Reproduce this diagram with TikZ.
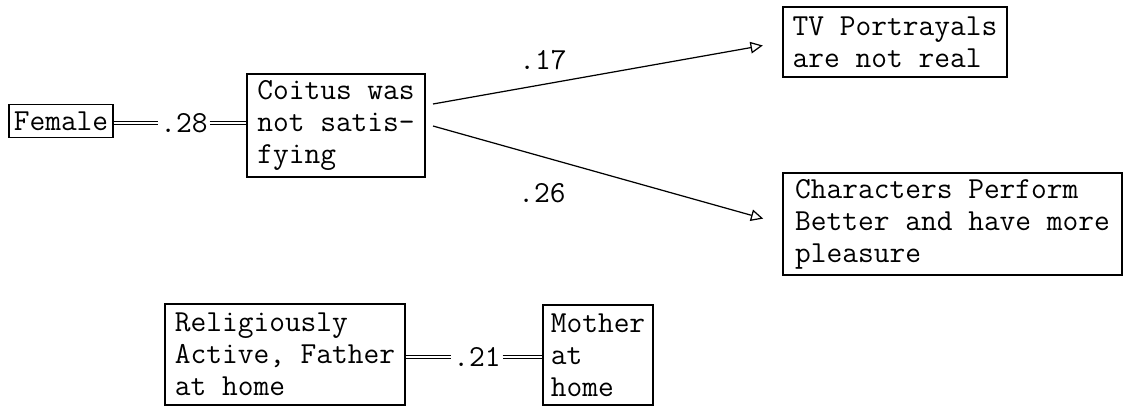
\documentclass[tikz,border=0pt]{standalone}
\usepackage{fontspec}
\usepackage{tikz}
\usetikzlibrary{arrows.meta, positioning}

\begin{document}
\begin{tikzpicture}[
    x=0.02cm, y=-0.02cm,
    every node/.style={font=\ttfamily\fontsize{17.4}{18.2}\selectfont},
    var/.style={
        rectangle, draw=black, line width=0.6pt,
        align=left, inner sep=0pt
    },
    coef/.style={inner sep=1pt},
    corr/.style={double, double distance=1.6pt, line width=0.45pt},
    arrow/.style={-{Triangle[open, length=7pt, width=6.6pt]}, line width=0.7pt},
]
\useasboundingbox (0,0) rectangle (1125,406);

% Variablen
\node[var, minimum width=104*0.02cm, minimum height=33*0.02cm] (female) at (61,121) {Female};
\node[var, minimum width=178*0.02cm, minimum height=103*0.02cm] (coitus) at (336,125.5)
    {Coitus was\\not satis-\\fying};
\node[var, minimum width=224*0.02cm, minimum height=70*0.02cm] (tv) at (895,42)
    {TV Portrayals\\are not real};
\node[var, minimum width=339*0.02cm, minimum height=102*0.02cm] (chars) at (952.5,224)
    {Characters Perform\\Better and have more\\pleasure};
\node[var, minimum width=240*0.02cm, minimum height=101*0.02cm] (relig) at (285,354.5)
    {Religiously\\Active, Father\\at home};
\node[var, minimum width=110*0.02cm, minimum height=100*0.02cm] (mother) at (598,355)
    {Mother\\at\\home};

% Koeffizienten
\node[coef] (r28) at (184,123) {.28};
\node[coef] (r21) at (477,357) {.21};
\node[coef] (b17) at (543,60)  {.17};
\node[coef] (b26) at (542,193) {.26};

% Korrelationen
\draw[corr] (female.east |- r28) -- (r28.west);
\draw[corr] (r28.east) -- (coitus.west |- r28);
\draw[corr] (relig.east |- r21) -- (r21.west);
\draw[corr] (r21.east) -- (mother.west |- r21);

% Pfade
\coordinate (o17) at (433,104);
\coordinate (o26) at (433,126);
\draw[arrow, shorten >=0.4cm] (o17) -- (tv.west);
\draw[arrow, shorten >=0.4cm] (o26) -- (chars.west);
\end{tikzpicture}
\end{document}
